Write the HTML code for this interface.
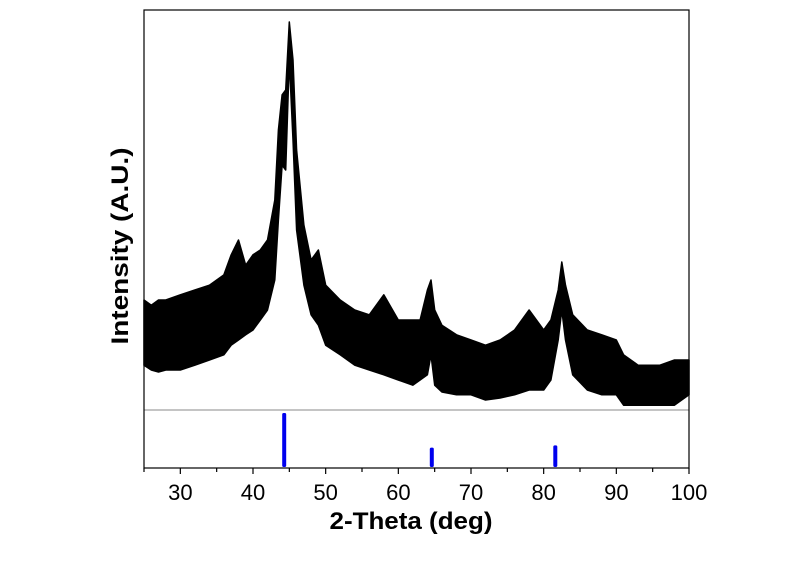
<!DOCTYPE html>
<html><head><meta charset="utf-8">
<style>
html,body{margin:0;padding:0;background:#fff;}
svg{display:block;font-family:"Liberation Sans",Arial,sans-serif;}
</style></head>
<body>
<svg id="chart" width="800" height="561" viewBox="0 0 800 561" xmlns="http://www.w3.org/2000/svg">
  <g id="trace"></g>
  <g id="refs"></g>
  <line x1="144" y1="410" x2="689" y2="410" stroke="#a0a0a0" stroke-width="1.2"/>
  <rect x="144" y="10" width="545" height="458" fill="none" stroke="#000" stroke-width="1.2"/>
  <g id="xticks"></g>
  <text x="411" y="529" font-size="24" font-weight="bold" text-anchor="middle" textLength="163" lengthAdjust="spacingAndGlyphs">2-Theta (deg)</text>
  <text transform="translate(128,246) rotate(-90)" font-size="24" font-weight="bold" text-anchor="middle" textLength="197" lengthAdjust="spacingAndGlyphs">Intensity (A.U.)</text>
</svg>
<script>
const angles = [25,26,27,28,30,32,34,36,37,38,39,40,41,42,43,43.5,44,44.5,45,45.5,46,47,48,49,50,52,54,56,58,60,62,63,64,64.5,65,66,68,70,72,74,76,78,80,81,82,82.5,83,84,86,88,90,91,93,96,98,100];
const upper = [27.5,26.2,27.5,27.5,28.8,30,31.2,33.8,38.8,42.5,36.2,38.8,40,42.5,52.5,70,78.8,80,97,87.5,65,46.2,37.5,40,31.2,27.5,25,23.8,28.8,22.5,22.5,22.5,30,32.5,25,21.2,18.8,17.5,16.2,17.5,20,25,20,22.5,30,37,31.2,23.8,20,18.8,17.5,13.8,11.2,11.2,12.5,12.5];
const lower = [11.2,10,9.5,10,10,11.2,12.5,13.8,16.2,17.5,18.8,20,22.5,25,32.5,47.5,61.2,60,87.5,67.5,45,31.2,23.8,21.2,16.2,13.8,11.2,10,8.8,7.5,6.2,7.5,8.8,13.8,6.2,4.5,3.8,3.8,2.5,3,3.8,5,5,7.5,17.5,25,17.5,8.8,5,3.8,3.8,1.2,1.2,1.2,1.2,3.8];
const refAngles = [44.3,64.6,81.6];
const refHeights = [100,36,40];
const xTicks = [30,40,50,60,70,80,90,100];
const xMinor = [25,35,45,55,65,75,85,95];

const NS="http://www.w3.org/2000/svg";
const xs = a => 144 + (a-25)*(545/75);
const ys = v => 410 - v*4;
const yr = h => 467 - h*0.54;

const trace=document.getElementById('trace');
let pts=[];
for(let i=0;i<angles.length;i++) pts.push(xs(angles[i]).toFixed(1)+','+ys(upper[i]).toFixed(1));
for(let i=angles.length-1;i>=0;i--) pts.push(xs(angles[i]).toFixed(1)+','+ys(lower[i]).toFixed(1));
const poly=document.createElementNS(NS,'polygon');
poly.setAttribute('points',pts.join(' '));
poly.setAttribute('fill','#000');
poly.setAttribute('stroke','#000');
poly.setAttribute('stroke-width','1.5');
poly.setAttribute('stroke-linejoin','round');


trace.appendChild(poly);

const refs=document.getElementById('refs');
for(let i=0;i<refAngles.length;i++){
  const r=document.createElementNS(NS,'rect');
  const x=xs(refAngles[i]);
  r.setAttribute('x',(x-2).toFixed(1));
  r.setAttribute('y',yr(refHeights[i]).toFixed(1));
  r.setAttribute('width','4');
  r.setAttribute('height',(467-yr(refHeights[i])).toFixed(1));
  r.setAttribute('rx','1.5');
  r.setAttribute('fill','#0000ee');
  
  
  refs.appendChild(r);
}

const xt=document.getElementById('xticks');
xTicks.forEach(t=>{
  const l=document.createElementNS(NS,'line');
  l.setAttribute('x1',xs(t));l.setAttribute('x2',xs(t));
  l.setAttribute('y1',468);l.setAttribute('y2',474);
  l.setAttribute('stroke','#000');l.setAttribute('stroke-width','1.2');
  
  
  xt.appendChild(l);
  const tx=document.createElementNS(NS,'text');
  tx.setAttribute('x',xs(t));tx.setAttribute('y',500);
  tx.setAttribute('font-size','22');tx.setAttribute('text-anchor','middle');
  tx.textContent=t;
  
  
  xt.appendChild(tx);
});
xMinor.forEach(t=>{
  const l=document.createElementNS(NS,'line');
  l.setAttribute('x1',xs(t));l.setAttribute('x2',xs(t));
  l.setAttribute('y1',468);l.setAttribute('y2',472);
  l.setAttribute('stroke','#000');l.setAttribute('stroke-width','1.2');
  
  
  xt.appendChild(l);
});
</script>
</body></html>
